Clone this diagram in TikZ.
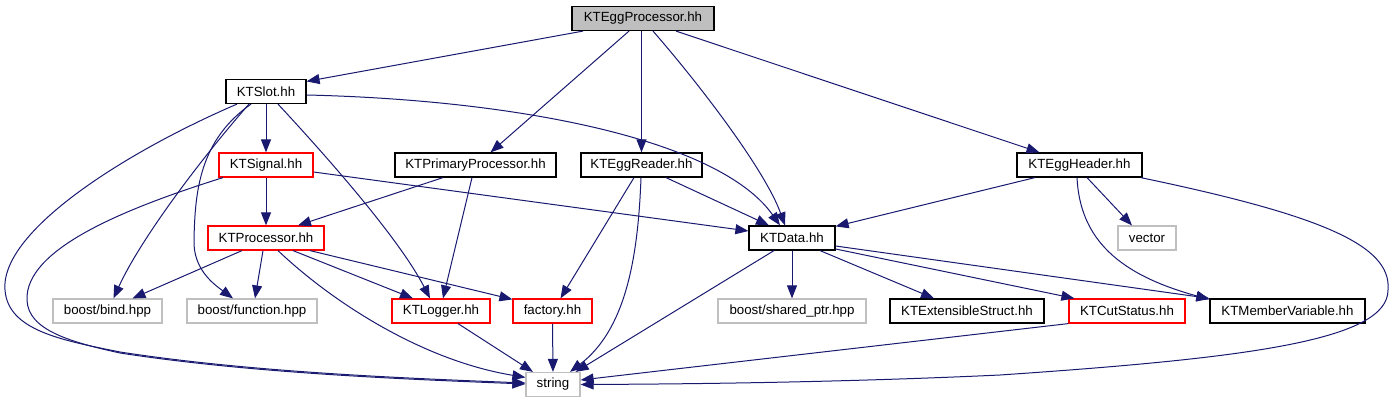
\documentclass[tikz,border=0pt]{standalone}
\usepackage{fontspec}
\setmainfont{Liberation Sans}
\usetikzlibrary{arrows.meta}
\definecolor{edgec}{HTML}{191970}
\definecolor{extc}{HTML}{BFBFBF}
\definecolor{redc}{HTML}{FF0000}
\tikzset{
  box/.style={draw, line width=1.2pt, minimum height=24pt, inner sep=0pt, font=\fontsize{13.3}{16}\selectfont},
  doc/.style={box, draw=black},
  main/.style={box, draw=black, fill=extc},
  redbox/.style={box, draw=redc},
  ext/.style={box, draw=extc},
  edge/.style={draw=edgec, line width=1pt, -{Triangle[length=13pt,width=10pt]}, edgec},
}
\begin{document}
\begin{tikzpicture}[x=1pt,y=-1pt]
\path[use as bounding box] (0,0) rectangle (1394,403);
% nodes
\node[main, minimum width=142pt] (egp) at (643,18.5) {KTEggProcessor.hh};
\node[doc, minimum width=80pt] (slot) at (266,91.5) {KTSlot.hh};
\node[redbox, minimum width=94pt] (signal) at (266,165) {KTSignal.hh};
\node[doc, minimum width=161pt] (prim) at (475.5,165) {KTPrimaryProcessor.hh};
\node[doc, minimum width=121pt] (reader) at (641.5,165) {KTEggReader.hh};
\node[doc, minimum width=125pt] (header) at (1079.5,165) {KTEggHeader.hh};
\node[redbox, minimum width=116pt] (proc) at (266,238) {KTProcessor.hh};
\node[doc, minimum width=86pt] (data) at (792,238) {KTData.hh};
\node[ext, minimum width=58pt] (vector) at (1147,238) {vector};
\node[ext, minimum width=109pt] (bind) at (107.5,311) {boost/bind.hpp};
\node[ext, minimum width=130pt] (func) at (252,311) {boost/function.hpp};
\node[redbox, minimum width=98pt] (logger) at (441,311) {KTLogger.hh};
\node[redbox, minimum width=79pt] (factory) at (552.5,311) {factory.hh};
\node[ext, minimum width=148pt] (shared) at (792,311) {boost/shared\_ptr.hpp};
\node[doc, minimum width=154pt] (extens) at (967,311) {KTExtensibleStruct.hh};
\node[redbox, minimum width=116pt] (cut) at (1127,311) {KTCutStatus.hh};
\node[doc, minimum width=155pt] (member) at (1287.5,311) {KTMemberVariable.hh};
\node[ext, minimum width=54pt] (string) at (553,384.5) {string};
% edges from KTEggProcessor
\draw[edge] ([xshift=-60pt]egp.south) -- ([yshift=-2.5pt]slot.north east);
\draw[edge] ([xshift=-14pt]egp.south) -- ([xshift=15pt]prim.north);
\draw[edge] ([xshift=-1.5pt]egp.south) -- (reader.north);
\draw[edge] ([xshift=10pt]egp.south) .. controls (700,85) and (765,170) .. ([xshift=-7pt]data.north);
\draw[edge] ([xshift=33pt]egp.south) -- ([xshift=-40pt]header.north);
% KTSlot
\draw[edge] (slot.south) -- (signal.north);
\draw[edge] ([yshift=-3.5pt]slot.east) .. controls (520,100) and (720,140) .. ([xshift=-12pt]data.north);
\draw[edge] ([xshift=-29pt]slot.south) .. controls (130,150) and (0,230) .. (5,290)
  .. controls (8,330) and (60,340) .. (120,352) .. controls (250,372) and (400,378) .. ([yshift=1.5pt]string.west);
\draw[edge] ([xshift=-17pt]slot.south) .. controls (200,160) and (140,240) .. ([xshift=6pt]bind.north);
\draw[edge] ([xshift=-15pt]slot.south) .. controls (200,140) and (195,190) .. (194,240)
  .. controls (193,270) and (215,285) .. ([xshift=-19pt]func.north);
\draw[edge] ([xshift=12pt]slot.south) .. controls (330,160) and (400,240) .. ([xshift=-11pt]logger.north);
% KTSignal
\draw[edge] (signal.south) -- (proc.north);
\draw[edge] ([yshift=-7pt]signal.east) -- ([yshift=7pt]data.west);
\draw[edge] ([xshift=-43pt]signal.south) .. controls (120,210) and (25,250) .. (27,300)
  .. controls (28,330) and (70,342) .. (120,353) .. controls (250,373) and (400,379) .. ([yshift=0.5pt]string.west);
% KTPrimaryProcessor
\draw[edge] ([xshift=-32.5pt]prim.south) -- ([xshift=32pt]proc.north);
\draw[edge] ([xshift=-3.5pt]prim.south) -- ([xshift=2pt]logger.north);
% KTProcessor
\draw[edge] ([xshift=-24pt]proc.south) -- ([xshift=25pt]bind.north);
\draw[edge] ([xshift=-3pt]proc.south) -- ([xshift=3pt]func.north);
\draw[edge] ([xshift=12pt]proc.south) .. controls (330,300) and (420,360) .. ([yshift=-5.5pt]string.north west);
\draw[edge] ([xshift=27pt]proc.south) -- ([xshift=-28pt]logger.north);
\draw[edge] ([xshift=44pt]proc.south) -- ([yshift=-1pt]factory.north west);
% KTEggReader
\draw[edge] ([xshift=-7.5pt]reader.south) -- ([xshift=8pt]factory.north);
\draw[edge] ([xshift=-0.5pt]reader.south) .. controls (638,260) and (625,330) .. ([xshift=17pt]string.north);
\draw[edge] ([xshift=24.5pt]reader.south) -- ([xshift=-23pt]data.north);
% KTLogger, factory
\draw[edge] ([xshift=17pt]logger.south) -- ([xshift=-20pt]string.north);
\draw[edge] (factory.south) -- (string.north);
% KTEggHeader
\draw[edge] ([xshift=-44.5pt]header.south) -- ([yshift=-1pt]data.north east);
\draw[edge] ([xshift=7.5pt]header.south) -- ([xshift=-15pt]vector.north);
\draw[edge] ([xshift=-2.5pt]header.south) .. controls (1080,240) and (1120,275) .. ([yshift=-1pt]member.north west);
\draw[edge] ([xshift=-2pt]header.south east) .. controls (1320,215) and (1392,245) .. (1388,290)
  .. controls (1388,340) and (1250,358) .. (1000,375) .. controls (850,382) and (700,384) .. (string.east);
% KTData
\draw[edge] (data.south) -- (shared.north);
\draw[edge] ([xshift=28pt]data.south) -- ([xshift=-33pt]extens.north);
\draw[edge] ([yshift=-11pt]data.east) -- ([xshift=6pt]cut.north west);
\draw[edge] ([yshift=-8pt]data.east) -- (member.north west);
\draw[edge] ([xshift=-18pt]data.south) -- ([xshift=-5pt]string.north east);
% KTCutStatus
\draw[edge] (cut.south west) -- ([yshift=4.5pt]string.east);
\end{tikzpicture}
\end{document}
